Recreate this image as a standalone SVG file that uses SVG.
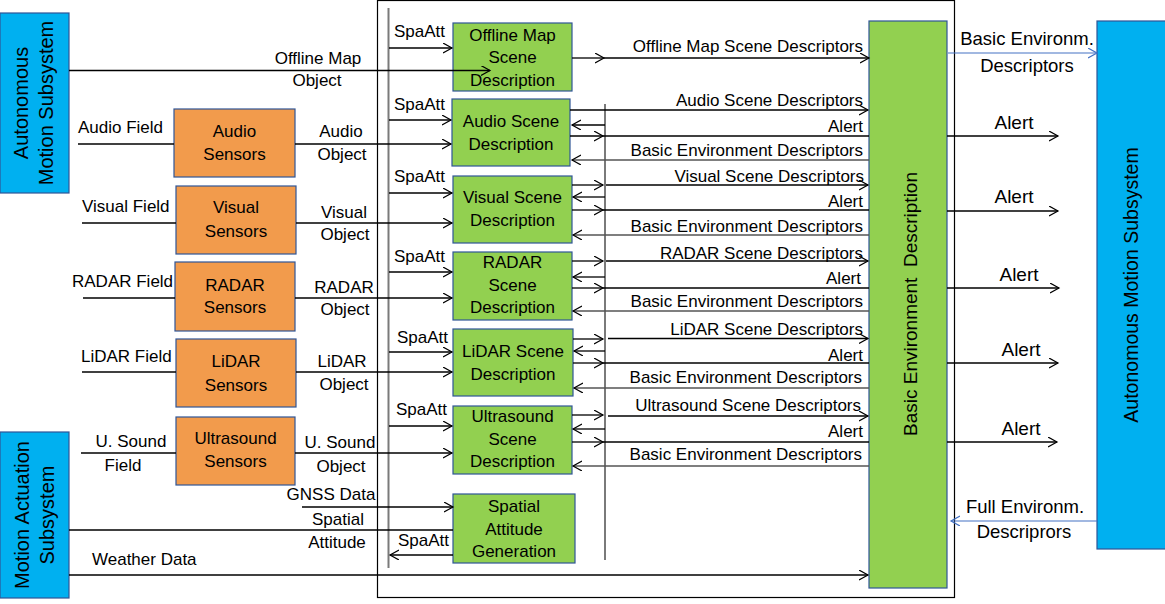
<svg xmlns="http://www.w3.org/2000/svg" width="1165" height="604" viewBox="0 0 1165 604">
<defs>
<marker id="arr" markerUnits="userSpaceOnUse" markerWidth="12" markerHeight="12" refX="9" refY="5" orient="auto"><path d="M0,0 L9,5 L0,10" fill="none" stroke="#000" stroke-width="1.2"/></marker>
<marker id="arrb" markerUnits="userSpaceOnUse" markerWidth="12" markerHeight="12" refX="9" refY="5" orient="auto"><path d="M0,0 L9,5 L0,10" fill="none" stroke="#4472C4" stroke-width="1.2"/></marker>
</defs>
<style>
text{font-family:"Liberation Sans",Arial,sans-serif;font-size:17px;fill:#000}
.m{text-anchor:middle}
.e{text-anchor:end}
.big{font-size:18.5px}
.al{font-size:19px}
.blue{fill:#00B0F0;stroke:#2F5597;stroke-width:1.2}
.green{fill:#92D050;stroke:#2F5597;stroke-width:1.2}
.orange{fill:#F29B4C;stroke:#2F5597;stroke-width:1.2}
.ln{fill:none;stroke:#000;stroke-width:1.3}
.gl{fill:none;stroke:#555;stroke-width:1.6}
.bus{fill:none;stroke:#7a7a7a;stroke-width:2}
.bl{fill:none;stroke:#4472C4;stroke-width:1.2}
.a{marker-end:url(#arr)}
.ab{marker-end:url(#arrb)}
</style>
<rect x="377.5" y="0.5" width="577" height="597" fill="none" stroke="#000" stroke-width="1.2"/>

<g id="ams-left"><rect class="blue" x="0" y="13" width="69" height="180"/>
<text class="m" style="font-size:20px" transform="translate(28,103) rotate(-90)">Autonomous</text>
<text class="m" style="font-size:20px" transform="translate(53,103) rotate(-90)">Motion Subsystem</text></g>

<g id="mas"><rect class="blue" x="0" y="432" width="69" height="166"/>
<text class="m" style="font-size:20px" transform="translate(29,515) rotate(-90)">Motion Actuation</text>
<text class="m" style="font-size:20px" transform="translate(54,515) rotate(-90)">Subsystem</text></g>

<g id="ams-right"><rect class="blue" x="1097" y="21" width="70" height="528"/>
<text class="m" style="font-size:19.5px" transform="translate(1138,285) rotate(-90)">Autonomous Motion Subsystem</text></g>

<g id="bed"><rect class="green" x="869" y="21" width="78" height="567"/>
<text class="m" style="font-size:19px;white-space:pre" transform="translate(917,304) rotate(-90)">Basic Environment  Description</text></g>

<g id="audio-sensors"><rect class="orange" x="174" y="109" width="121" height="68"/>
<text class="m" x="234.5" y="137">Audio</text><text class="m" x="234.5" y="160">Sensors</text></g>
<g id="visual-sensors"><rect class="orange" x="176" y="186" width="120" height="68"/>
<text class="m" x="236" y="213">Visual</text><text class="m" x="236" y="237">Sensors</text></g>
<g id="radar-sensors"><rect class="orange" x="175" y="262" width="120" height="69"/>
<text class="m" x="235" y="291">RADAR</text><text class="m" x="235" y="313">Sensors</text></g>
<g id="lidar-sensors"><rect class="orange" x="176" y="339" width="120" height="68"/>
<text class="m" x="236" y="367">LiDAR</text><text class="m" x="236" y="391">Sensors</text></g>
<g id="us-sensors"><rect class="orange" x="176" y="417" width="119" height="68"/>
<text class="m" x="235.5" y="444">Ultrasound</text><text class="m" x="235.5" y="467">Sensors</text></g>

<g id="offline-scene"><rect class="green" x="453" y="23" width="119" height="68"/>
<text class="m" x="512.5" y="41">Offline Map</text><text class="m" x="512.5" y="63">Scene</text><text class="m" x="512.5" y="86">Description</text></g>
<g id="audio-scene"><rect class="green" x="452" y="99" width="118" height="67"/>
<text class="m" x="511" y="127">Audio Scene</text><text class="m" x="511" y="150">Description</text></g>
<g id="visual-scene"><rect class="green" x="453" y="176" width="119" height="67"/>
<text class="m" x="512.5" y="203">Visual Scene</text><text class="m" x="512.5" y="226">Description</text></g>
<g id="radar-scene"><rect class="green" x="453" y="252" width="119" height="68"/>
<text class="m" x="512.5" y="268">RADAR</text><text class="m" x="512.5" y="291">Scene</text><text class="m" x="512.5" y="313">Description</text></g>
<g id="lidar-scene"><rect class="green" x="453" y="329" width="120" height="67"/>
<text class="m" x="513" y="357">LiDAR Scene</text><text class="m" x="513" y="380">Description</text></g>
<g id="us-scene"><rect class="green" x="453" y="406" width="119" height="68"/>
<text class="m" x="512.5" y="422">Ultrasound</text><text class="m" x="512.5" y="445">Scene</text><text class="m" x="512.5" y="467">Description</text></g>
<g id="sag"><rect class="green" x="453" y="494" width="122" height="69"/>
<text class="m" x="514" y="512">Spatial</text><text class="m" x="514" y="535">Attitude</text><text class="m" x="514" y="557">Generation</text></g>

<g id="connectors">
<path class="bus" d="M388.5,8 V568"/>
<path class="bus" d="M605,104 V560"/>
<path class="ln a" d="M69,70.5 H490"/>
<path class="ln" d="M78,144 H174"/><path class="ln a" d="M295,144 H451"/>
<path class="ln" d="M82,223 H176"/><path class="ln a" d="M296,223 H452"/>
<path class="ln" d="M83,298 H175"/><path class="ln a" d="M295,298 H452"/>
<path class="ln" d="M82,372 H176"/><path class="ln a" d="M296,372 H452"/>
<path class="ln" d="M81,453 H176"/><path class="ln a" d="M295,453 H452"/>
<path class="ln a" d="M302,507 H453"/>
<path class="ln" d="M69,530 H453"/>
<path class="ln a" d="M453,555 H390"/>
<path class="ln a" d="M69,575 H868"/>
<path class="ln a" d="M389,48 H452"/><path class="ln a" d="M389,120 H451"/><path class="ln a" d="M389,193 H452"/>
<path class="ln a" d="M389,272 H452"/><path class="ln a" d="M389,352 H452"/><path class="ln a" d="M389,426 H452"/>

<path class="ln a" d="M572,58 H604"/><path class="ln a" d="M604,58 H869"/>

<path class="ln a" d="M570,110 H868"/>
<path class="ln a" d="M605,125 H572"/>
<path class="ln a" d="M570,136 H603"/><path class="ln" d="M603,136 H869"/>
<path class="gl a" d="M869,160 H572"/>

<path class="ln a" d="M572,185 H603"/><path class="ln a" d="M606,185 H868"/>
<path class="ln a" d="M605,197 H573"/>
<path class="ln a" d="M572,210 H603"/><path class="ln" d="M603,210 H869"/>
<path class="gl a" d="M869,235 H573"/>

<path class="ln a" d="M572,261 H603"/><path class="ln a" d="M606,261 H868"/>
<path class="ln a" d="M605,277 H573"/>
<path class="ln a" d="M572,288 H603"/><path class="ln" d="M603,288 H869"/>
<path class="gl a" d="M869,311 H573"/>

<path class="ln a" d="M573,339 H603"/><path class="ln a" d="M608,338.5 H868"/>
<path class="ln a" d="M605,351 H574"/>
<path class="ln a" d="M573,363 H603"/><path class="ln" d="M603,363 H869"/>
<path class="gl a" d="M869,388 H574"/>

<path class="ln a" d="M572,415 H603"/><path class="ln a" d="M608,416 H868"/>
<path class="ln a" d="M605,429 H573"/>
<path class="ln a" d="M572,442 H603"/><path class="ln" d="M603,442 H869"/>
<path class="gl a" d="M869,466 H573"/>

<path class="ln a" d="M947,136 H1058"/><path class="ln a" d="M947,211 H1058"/><path class="ln a" d="M947,288 H1059"/>
<path class="ln a" d="M947,363 H1058"/><path class="ln a" d="M947,442 H1057"/>
<path class="bl ab" d="M948,53 H1097"/>
<path class="bl ab" d="M1097,521 H951"/>
</g>

<g id="labels">
<text class="m" x="318" y="64">Offline Map</text><text class="m" x="317" y="86">Object</text>
<text class="e" x="163" y="133">Audio Field</text>
<text class="m" x="341" y="137">Audio</text><text class="m" x="342" y="160">Object</text>
<text x="82" y="212">Visual Field</text>
<text class="m" x="344" y="218">Visual</text><text class="m" x="345" y="240">Object</text>
<text x="72" y="287">RADAR Field</text>
<text class="m" x="344" y="293">RADAR</text><text class="m" x="345" y="315">Object</text>
<text x="81" y="362">LiDAR Field</text>
<text class="m" x="342" y="367">LiDAR</text><text class="m" x="344" y="390">Object</text>
<text class="m" x="131" y="447">U. Sound</text><text class="m" x="123" y="471">Field</text>
<text class="m" x="340" y="448">U. Sound</text><text class="m" x="341" y="472">Object</text>
<text class="m" x="331" y="500">GNSS Data</text>
<text class="m" x="338" y="525">Spatial</text><text class="m" x="337" y="548">Attitude</text>
<text x="92" y="565">Weather Data</text>

<text x="394" y="37">SpaAtt</text><text x="394" y="110">SpaAtt</text><text x="394" y="182">SpaAtt</text>
<text x="394" y="262">SpaAtt</text><text x="397" y="343">SpaAtt</text><text x="396" y="415">SpaAtt</text>
<text x="398" y="546">SpaAtt</text>

<text class="e" x="863" y="52">Offline Map Scene Descriptors</text>
<text class="e" x="863" y="106">Audio Scene Descriptors</text>
<text class="e" x="863" y="132">Alert</text>
<text class="e" x="863" y="156">Basic Environment Descriptors</text>
<text class="e" x="864" y="182">Visual Scene Descriptors</text>
<text class="e" x="863" y="207">Alert</text>
<text class="e" x="863" y="232">Basic Environment Descriptors</text>
<text class="e" x="863" y="259">RADAR Scene Descriptors</text>
<text class="e" x="861" y="284">Alert</text>
<text class="e" x="863" y="307">Basic Environment Descriptors</text>
<text class="e" x="863" y="335">LiDAR Scene Descriptors</text>
<text class="e" x="863" y="361">Alert</text>
<text class="e" x="862" y="383">Basic Environment Descriptors</text>
<text class="e" x="861" y="411">Ultrasound Scene Descriptors</text>
<text class="e" x="863" y="437">Alert</text>
<text class="e" x="862" y="460">Basic Environment Descriptors</text>

<text class="m big" x="1027" y="45">Basic Environm.</text>
<text class="m big" x="1027" y="72">Descriptors</text>
<text class="m al" x="1014" y="129">Alert</text>
<text class="m al" x="1014" y="203">Alert</text>
<text class="m al" x="1019" y="281">Alert</text>
<text class="m al" x="1021" y="356">Alert</text>
<text class="m al" x="1021" y="435">Alert</text>
<text class="m big" x="1025" y="513">Full Environm.</text>
<text class="m big" x="1024" y="538">Descriprors</text>
</g>
</svg>
